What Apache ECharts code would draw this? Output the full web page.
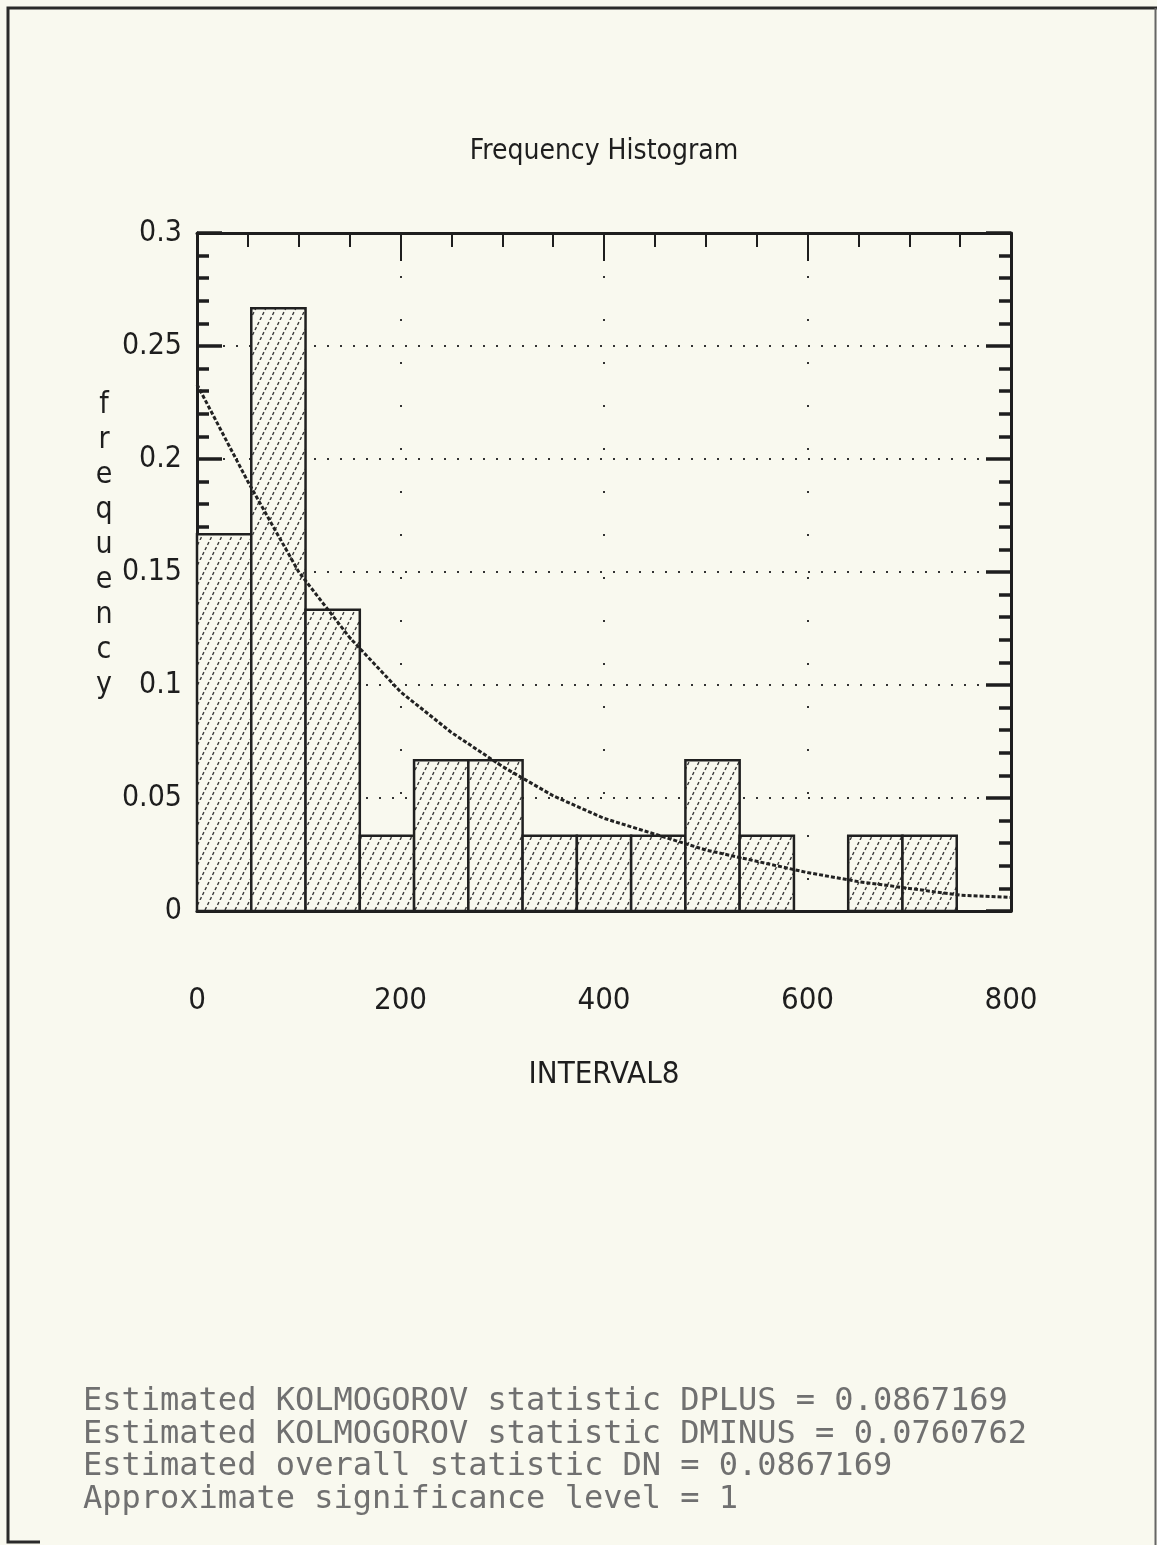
<!DOCTYPE html>
<html>
<head>
<meta charset="utf-8">
<script src="https://cdn.jsdelivr.net/npm/echarts@6/dist/echarts.min.js"></script>
<style>
  html, body { margin: 0; padding: 0; background: #f9f9ef; }
  #chart { width: 1157px; height: 1545px; }
</style>
</head>
<body>
<div id="chart"></div>
<script>
// ---- data ----
const binStart = [0, 53.33, 106.67, 160, 213.33, 266.67, 320, 373.33, 426.67, 480, 533.33, 586.67, 640, 693.33, 746.67];
const binEnd   = [53.33, 106.67, 160, 213.33, 266.67, 320, 373.33, 426.67, 480, 533.33, 586.67, 640, 693.33, 746.67, 800];
const freq     = [0.1667, 0.2667, 0.1333, 0.0333, 0.0667, 0.0667, 0.0333, 0.0333, 0.0333, 0.0667, 0.0333, 0, 0.0333, 0.0333, 0];
const fitX     = [0, 50, 100, 150, 200, 250, 300, 350, 400, 450, 500, 550, 600, 650, 700, 750, 800];
const fitY     = [0.233, 0.190, 0.150, 0.121, 0.097, 0.079, 0.064, 0.051, 0.041, 0.034, 0.027, 0.022, 0.017, 0.013, 0.010, 0.007, 0.006];
const xTicks   = [0, 200, 400, 600, 800];
const yTicks   = [0, 0.05, 0.1, 0.15, 0.2, 0.25, 0.3];
const statLines = [
  'Estimated KOLMOGOROV statistic DPLUS = 0.0867169',
  'Estimated KOLMOGOROV statistic DMINUS = 0.0760762',
  'Estimated overall statistic DN = 0.0867169',
  'Approximate significance level = 1'
];

// hatch pattern
const pc = document.createElement('canvas');
pc.width = 10; pc.height = 20;
const g = pc.getContext('2d');
g.fillStyle = '#f9f9ef';
g.fillRect(0, 0, 10, 20);
g.strokeStyle = '#3a3a3a';
g.lineWidth = 1.4;
g.setLineDash([3.2, 2.39]);
[-10, 0, 10].forEach(function (o) {
  g.beginPath(); g.moveTo(o, 20); g.lineTo(o + 10, 0); g.stroke();
});
const hatch = { image: pc, repeat: 'repeat' };

const NARROW = '"Liberation Sans Narrow", "DejaVu Sans Condensed", "Liberation Sans", sans-serif';
const INK = '#1e1e1e';

const barData = binStart.map(function (s, i) { return [s, binEnd[i], freq[i]]; });
const fitData = fitX.map(function (x, i) { return [x, fitY[i]]; });

const chart = echarts.init(document.getElementById('chart'), null, { renderer: 'canvas' });

const graphics = [
  { type: 'text', x: 604, y: 152, style: { text: 'Frequency Histogram', font: '28px ' + NARROW, fill: INK, textAlign: 'center', textVerticalAlign: 'middle' } },
  { type: 'text', x: 104, y: 388, style: { text: 'f\nr\ne\nq\nu\ne\nn\nc\ny', font: '30px ' + NARROW, fill: INK, textAlign: 'center', lineHeight: 35 } },
  { type: 'polyline', shape: { points: [[1157, 8], [8, 8], [8, 1542], [40, 1542]] }, style: { stroke: '#2a2a2a', lineWidth: 3, fill: null } },
  { type: 'line', shape: { x1: 1155.5, y1: 8, x2: 1155.5, y2: 1545 }, style: { stroke: '#666', lineWidth: 2 } }
];
statLines.forEach(function (t, i) {
  graphics.push({ type: 'text', x: 83, y: 1402 + i * 32.5, style: { text: t, font: '32px "DejaVu Sans Mono", monospace', fill: '#707070', textVerticalAlign: 'middle' } });
});

chart.setOption({
  backgroundColor: '#f9f9ef',
  animation: false,
  grid: { left: 197, right: 146, top: 233, bottom: 634, containLabel: false },
  xAxis: [
    {
      type: 'value', position: 'bottom', min: xTicks[0], max: xTicks[xTicks.length - 1], interval: 200,
      name: 'INTERVAL8', nameLocation: 'middle', nameGap: 148,
      nameTextStyle: { fontFamily: NARROW, fontSize: 31, color: INK },
      axisLine: { show: true, onZero: false, lineStyle: { color: INK, width: 3 } },
      axisTick: { show: false },
      axisLabel: { margin: 74, fontFamily: NARROW, fontSize: 31, color: INK },
      splitLine: { show: true, lineStyle: { color: '#333', width: 2, type: [2, 41] } }
    },
    {
      type: 'value', position: 'top', min: 0, max: 800, interval: 200,
      axisLine: { show: true, onZero: false, lineStyle: { color: INK, width: 3 } },
      axisTick: { show: true, inside: true, length: 28, lineStyle: { color: INK, width: 2 } },
      minorTick: { show: true, splitNumber: 4, length: 14, lineStyle: { color: INK, width: 2 } },
      axisLabel: { show: false },
      splitLine: { show: false }
    }
  ],
  yAxis: [
    {
      type: 'value', position: 'left', min: yTicks[0], max: yTicks[yTicks.length - 1], interval: 0.05,
      axisLine: { show: true, onZero: false, lineStyle: { color: INK, width: 3 } },
      axisTick: { show: true, inside: true, length: 25, lineStyle: { color: INK, width: 3.5 } },
      minorTick: { show: true, splitNumber: 5, length: 12, lineStyle: { color: INK, width: 3.5 } },
      axisLabel: { margin: 15, fontFamily: NARROW, fontSize: 30, color: INK },
      splitLine: { show: true, lineStyle: { color: '#333', width: 2, type: [2, 11] } }
    },
    {
      type: 'value', position: 'right', min: 0, max: 0.3, interval: 0.05,
      axisLine: { show: true, onZero: false, lineStyle: { color: INK, width: 3 } },
      axisTick: { show: true, inside: true, length: 25, lineStyle: { color: INK, width: 3.5 } },
      minorTick: { show: true, splitNumber: 5, length: 12, lineStyle: { color: INK, width: 3.5 } },
      axisLabel: { show: false },
      splitLine: { show: false }
    }
  ],
  series: [
    {
      type: 'custom', xAxisIndex: 0, yAxisIndex: 0, z: 3,
      data: barData,
      encode: { x: [0, 1], y: 2 },
      renderItem: function (params, api) {
        const x0 = api.value(0), x1 = api.value(1), v = api.value(2);
        if (!v) return null;
        const p0 = api.coord([x0, v]);
        const p1 = api.coord([x1, 0]);
        return {
          type: 'rect',
          shape: { x: p0[0], y: p0[1], width: p1[0] - p0[0], height: p1[1] - p0[1] },
          style: { fill: hatch, stroke: '#202020', lineWidth: 2.5 }
        };
      }
    },
    {
      type: 'line', xAxisIndex: 0, yAxisIndex: 0, z: 4,
      data: fitData, symbol: 'none', smooth: false,
      lineStyle: { color: '#222', width: 3, type: [4, 2] }
    }
  ],
  graphic: graphics
});
</script>
</body>
</html>
